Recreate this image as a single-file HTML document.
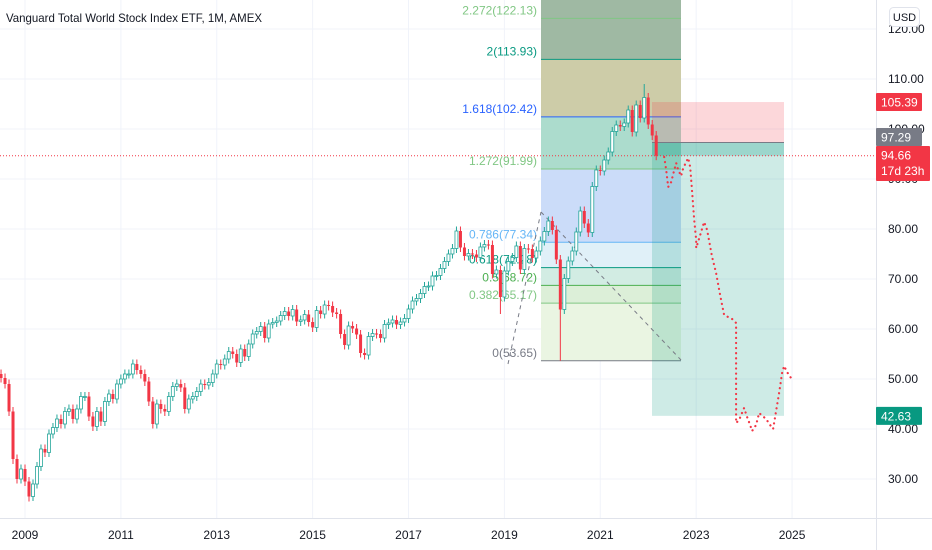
<!DOCTYPE html>
<html><head><meta charset="utf-8"><style>
html,body{margin:0;padding:0;background:#fff;}
#wrap{position:relative;width:932px;height:550px;overflow:hidden;font-family:"Liberation Sans",sans-serif;}
svg{position:absolute;left:0;top:0;}
</style></head><body>
<div id="wrap">
<svg id="chart" width="932" height="550"></svg>
</div>
<script>
// ---- data ----
const startYear = 2008, startMonth = 7; // first candle: Jul 2008
const closes = [50.2,49,43.5,34,30,32,
29.5,26.5,29,32.5,36,35.3,39,40.3,42,41,43.5,44,
42,44,46.5,46.5,42.5,40.5,43.5,41.5,45.5,47,46,49,
50,51,51,53,51.8,51,49.5,45.5,41,45,44,43.5,
46.5,48.5,49,48.3,44,46,46.5,47.5,49,48.8,49.3,51,
53,52.8,54,55.5,55,53.3,56,54.5,57,59,59.5,60.5,
58.2,61,61.3,61.6,62.7,63.5,62.6,63.9,61.5,61.8,62.9,61.4,
60.3,63.7,63,64.8,64.6,63.3,63,59,56.8,60.6,60.1,58.9,
55.2,54.8,58.5,59.1,59,58.2,60.9,61.2,61.8,60.9,61.4,62.1,
64,65.6,66.1,67.1,68.5,68.6,70.6,70.7,72.1,73.5,75,76.1,
79.6,76.3,74.6,75.1,74.9,74.3,76.4,76.9,76.8,71,71.8,66.4,
71.6,73.5,74.3,76.6,71.9,76.1,76,74.2,75.6,77.6,79.5,81.6,
79.8,73.9,63.9,70.1,73.6,75.6,79.4,83.6,81.1,79.3,88.5,91.8,
91.6,93.8,95.4,99.5,100.8,100.5,101.2,103.8,99.4,104.8,102.2,106.3,
100.9,98.7,94.66];
const firstOpen = 51;
const lowOverrides = {140: 53.65, 3: 33, 7: 25.5, 125: 63};
const highOverrides = {114: 80.5, 161: 109};
const yearTicks = [2009,2011,2013,2015,2017,2019,2021,2023,2025];
const priceTicks = [30,40,50,60,70,80,90,100,110,120];
const fibLevels = [0,0.382,0.5,0.618,0.786,1.272,1.618,2,2.272];
const fibPrices = [53.65,65.17,68.72,72.28,77.34,91.99,102.42,113.93,122.13];
const fibColors = ["#787b86","#81c784","#4caf50","#089981","#64b5f6","#81c784","#2962ff","#089981","#81c784"];
const fibFills = ["#eaf5e2","#dcefd8","#d2ece3","#e0f0f8","#cbdcf9","#acdccd","#cdcca8","#9fb9a3"];
// projection path: month offset from Jan 2009, price
const projM = [160,160.5,161,161.75,162.25,163,163.5,164.25,164.5,165.25,166,166.5,167,167.5,168,168,169,170,170.75,172,173,174,175,177,178,178,178.75,180,180.75,181.5,182,183,183.75,185.5,186.5,187.25,187.75,188.75,189.5,190,190.75,191.75];
const projP = [94.4,91.8,88.4,89.4,91,93.2,91.8,90.6,91.6,93,94.2,92.4,87.2,81.8,77.8,76.2,78.8,81.4,79.8,74.4,71.2,66.8,62.8,62,61.2,41.2,41.8,44.2,42.4,40.8,39.6,40.8,43.2,42,40.8,40,42.4,47.2,51.2,52.6,51.4,50.2];
const posTop = 105.39, posEntry = 97.29, posStop = 42.63, lastPrice = 94.66;

// ---- scales ----
const plotW = 876, plotH = 518;
function yS(p){ return 379 - (p - 50) * 5; }
function xM(m){ return 25 + m * 3.995; } // m = months since Jan 2009
function xIdx(i){ return xM(i + (startYear - 2009) * 12 + (startMonth - 1)); }
function xYear(y){ return xM((y - 2009) * 12); }

const NS = "http://www.w3.org/2000/svg";
const svg = document.getElementById('chart');
function mk(tag, attrs, parent){
  const e = document.createElementNS(NS, tag);
  for (const k in attrs) e.setAttribute(k, attrs[k]);
  (parent || svg).appendChild(e);
  return e;
}

// grid
const grid = mk('g', {});


priceTicks.forEach(p => { const l = mk('line', {x1:0, x2:plotW, y1:yS(p), y2:yS(p), stroke:'#f0f3fa', 'stroke-width':1}, grid);
    });
yearTicks.forEach(y => { const l = mk('line', {x1:xYear(y), x2:xYear(y), y1:0, y2:plotH, stroke:'#f0f3fa', 'stroke-width':1}, grid);
    });

// fib retracement
const fibX1 = 541, fibX2 = 681;
const fib = mk('g', {});


for (let i = 0; i < fibPrices.length - 1; i++) {
  const r = mk('rect', {x:fibX1, y:yS(fibPrices[i+1]), width:fibX2-fibX1, height:yS(fibPrices[i])-yS(fibPrices[i+1]), fill:fibFills[i]}, fib);
   
}
{ const r = mk('rect', {x:fibX1, y:0, width:fibX2-fibX1, height:yS(fibPrices[fibPrices.length-1]), fill:'#9fb9a3'}, fib);
    }
fibPrices.forEach((p, i) => {
  const l = mk('line', {x1:fibX1, x2:fibX2, y1:yS(p), y2:yS(p), stroke:fibColors[i], 'stroke-width':1}, fib);
   
  const t = mk('text', {x:fibX1-4, y:yS(p)-4, 'text-anchor':'end', 'font-size':'12', fill:fibColors[i], 'font-family':'Liberation Sans, sans-serif'}, fib);
  t.textContent = fibLevels[i] + '(' + p.toFixed(2) + ')';
   
});

// position tool
const pos = mk('g', {});


const px1 = 652, px2 = 784;
{ const r = mk('rect', {x:px1, y:yS(posTop), width:px2-px1, height:yS(posEntry)-yS(posTop), fill:'rgba(242,54,69,0.2)'}, pos);
   
  const g = mk('rect', {x:px1, y:yS(posEntry), width:px2-px1, height:yS(posStop)-yS(posEntry), fill:'rgba(8,153,129,0.2)'}, pos);
   
  const s = mk('rect', {x:px1, y:yS(posEntry), width:px2-px1, height:yS(lastPrice)-yS(posEntry), fill:'rgba(8,153,129,0.25)'}, pos);
   
  const e = mk('line', {x1:px1, x2:px2, y1:yS(posEntry), y2:yS(posEntry), stroke:'#787b86', 'stroke-width':1}, pos);
    }

// dashed trend lines
{ const d1 = mk('line', {x1:508, y1:364, x2:541, y2:212, stroke:'#787b86', 'stroke-width':1, 'stroke-dasharray':'4,4'});
   
  const d2 = mk('line', {x1:541, y1:212, x2:681, y2:360, stroke:'#787b86', 'stroke-width':1, 'stroke-dasharray':'4,4'});
    }

// current price line
{ const l = mk('line', {x1:0, x2:plotW, y1:yS(lastPrice), y2:yS(lastPrice), stroke:'#f23645', 'stroke-width':1, 'stroke-dasharray':'1,2'});
    }

// candles
const cg = mk('g', {});


closes.forEach((c, i) => {
  const o = i === 0 ? firstOpen : closes[i-1];
  const up = c >= o;
  const hi = highOverrides[i] !== undefined ? highOverrides[i] : Math.max(o, c) + 0.9;
  const lo = lowOverrides[i] !== undefined ? lowOverrides[i] : Math.min(o, c) - 0.9;
  const x = xIdx(i);
  const col = up ? '#26a69a' : '#f23645';
  const w = mk('line', {x1:x, x2:x, y1:yS(hi), y2:yS(lo), stroke:col, 'stroke-width':1}, cg);
   
  const top = yS(Math.max(o, c)), h = Math.max(1, yS(Math.min(o, c)) - top);
  const b = mk('rect', up ? {x:x-1.5, y:top, width:3, height:h, fill:'#fff', stroke:col, 'stroke-width':0.8}
                          : {x:x-1.5, y:top, width:3, height:h, fill:col}, cg);
   
});

// projection dotted path
{ const pts = projM.map((m, i) => xM(m).toFixed(1) + ',' + yS(projP[i]).toFixed(1)).join(' ');
  const pl = mk('polyline', {points:pts, fill:'none', stroke:'#f23645', 'stroke-width':2.2, 'stroke-dasharray':'0.1,5', 'stroke-linecap':'round'});
    }

// axes
{ const pa = mk('rect', {x:plotW, y:0, width:932-plotW, height:550, fill:'#fff'});
   
  const ta = mk('rect', {x:0, y:plotH, width:plotW, height:550-plotH, fill:'#fff'});
   
  const l1 = mk('line', {x1:plotW+0.5, x2:plotW+0.5, y1:0, y2:550, stroke:'#e0e3eb'});
   
  const l2 = mk('line', {x1:0, x2:932, y1:plotH+0.5, y2:plotH+0.5, stroke:'#e0e3eb'});
    }
priceTicks.forEach(p => {
  const t = mk('text', {x:888, y:yS(p)+4, 'font-size':'12', fill:'#131722', 'font-family':'Liberation Sans, sans-serif'});
  t.textContent = p.toFixed(2);
   
});
yearTicks.forEach(y => {
  const t = mk('text', {x:xYear(y), y:539, 'text-anchor':'middle', 'font-size':'12', fill:'#131722', 'font-family':'Liberation Sans, sans-serif'});
  t.textContent = y;
   
});

// badges
function badge(name, yTop, color, text, text2){
  const g = mk('g', {});
  
  
  const h = text2 ? 35 : 18;
  mk('rect', {x:plotW, y:yTop, width:text2 ? 54 : 46, height:h, fill:color, rx:1}, g);
  const t = mk('text', {x:881, y:yTop+13.5, 'font-size':'12', fill:'#fff', 'font-family':'Liberation Sans, sans-serif'}, g);
  t.textContent = text;
  if (text2) { const t2 = mk('text', {x:881, y:yTop+29, 'font-size':'12', fill:'#fff', 'font-family':'Liberation Sans, sans-serif'}, g); t2.textContent = text2; }
}
badge('stop-price-badge', yS(posTop) - 9, '#f23645', posTop.toFixed(2));
badge('entry-price-badge', 128, '#787b86', posEntry.toFixed(2));
badge('last-price-badge', 146, '#f23645', lastPrice.toFixed(2), '17d 23h');
badge('target-price-badge', yS(posStop) - 9, '#089981', posStop.toFixed(2));

// USD button
{ const g = mk('g', {});
  
  
  mk('rect', {x:889.5, y:7.5, width:30, height:19, rx:4, fill:'#fff', stroke:'#e0e3eb'}, g);
  const t = mk('text', {x:904.5, y:21, 'text-anchor':'middle', 'font-size':'11', fill:'#131722', 'font-family':'Liberation Sans, sans-serif'}, g);
  t.textContent = 'USD'; }

// title
{ const t = mk('text', {x:6, y:22, 'font-size':'12', fill:'#131722', 'font-family':'Liberation Sans, sans-serif', textLength:256, lengthAdjust:'spacingAndGlyphs'});
  t.textContent = 'Vanguard Total World Stock Index ETF, 1M, AMEX';
    }
</script>
</body></html>
